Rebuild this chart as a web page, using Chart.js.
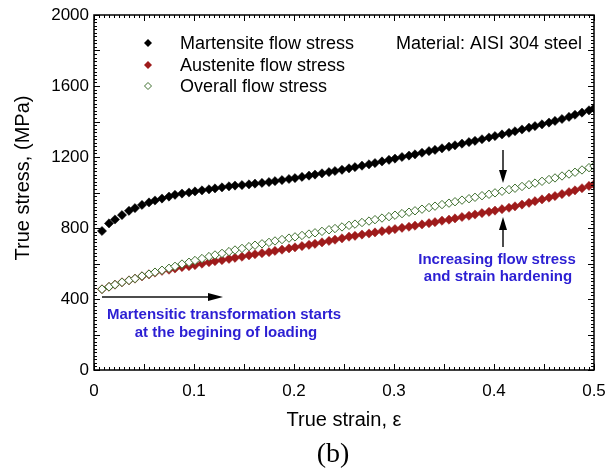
<!DOCTYPE html>
<html><head><meta charset="utf-8">
<script src="https://cdn.jsdelivr.net/npm/chart.js@4.4.0/dist/chart.umd.min.js"></script>
<style>html,body{margin:0;padding:0;background:#fff}#wrap{width:606px;height:475px}</style>
</head><body><div id="wrap"><canvas id="c" width="606" height="475"></canvas></div>
<script>
// ---- data ----
const strain = [0.008,0.015,0.021,0.028,0.035,0.041,0.048,0.055,0.061,0.068,0.075,0.081,0.088,0.095,0.101,0.108,0.115,0.121,0.128,0.135,0.141,0.148,0.155,0.161,0.168,0.175,0.181,0.188,0.195,0.201,0.208,0.215,0.221,0.228,0.235,0.241,0.248,0.255,0.261,0.268,0.275,0.281,0.288,0.295,0.301,0.308,0.315,0.321,0.328,0.335,0.341,0.348,0.355,0.361,0.368,0.375,0.381,0.388,0.395,0.401,0.408,0.415,0.421,0.428,0.435,0.441,0.448,0.455,0.461,0.468,0.475,0.481,0.488,0.495,0.5];
const martensite = [783,826,848,873,897,912,930,944,955,966,977,987,994,1000,1006,1012,1018,1023,1029,1035,1039,1042,1046,1050,1054,1059,1064,1070,1076,1081,1088,1095,1101,1108,1115,1121,1128,1136,1143,1151,1159,1166,1175,1184,1191,1200,1208,1215,1224,1233,1240,1249,1258,1266,1275,1284,1291,1300,1310,1318,1327,1336,1345,1355,1365,1374,1384,1394,1403,1414,1426,1438,1450,1463,1474];
const austenite = [455,469,481,494,505,515,528,539,549,559,565,572,580,585,591,599,607,613,619,626,632,638,646,652,658,664,671,678,685,691,698,705,711,719,727,734,742,751,756,763,769,775,782,788,794,801,807,813,820,827,833,841,847,854,862,869,876,884,891,898,906,914,922,932,942,951,961,971,980,991,1002,1012,1024,1037,1046];
const overall = [455,469,481,494,505,515,529,540,551,562,573,584,597,607,617,628,639,648,657,667,676,685,695,703,711,719,727,735,743,750,758,766,773,781,790,797,806,815,822,831,839,847,856,864,872,881,889,897,906,915,923,932,940,948,957,965,973,982,990,998,1007,1016,1024,1034,1044,1053,1063,1073,1082,1093,1104,1114,1127,1140,1149];
const xTickValues = [0,0.1,0.2,0.3,0.4,0.5];
const xTickLabels = ['0','0.1','0.2','0.3','0.4','0.5'];
const yTickValues = [0,400,800,1200,1600,2000];
const yTickLabels = ['0','400','800','1200','1600','2000'];
const seriesNames = ['Martensite flow stress','Austenite flow stress','Overall flow stress'];

const BLACK = '#000000', RED = '#9e1b1b', GREEN = '#3f6f2f', BLUE = '#2c1fd3';
const FONT = '"Liberation Sans", Arial, sans-serif';

function pts(ys){ return strain.map((x,i)=>({x:x,y:ys[i]})); }

function diamond(ctx,x,y,r,fill,stroke){
  ctx.beginPath();
  ctx.moveTo(x,y-r); ctx.lineTo(x+r,y); ctx.lineTo(x,y+r); ctx.lineTo(x-r,y); ctx.closePath();
  ctx.fillStyle = fill; ctx.fill();
  if (stroke){ ctx.lineWidth=1; ctx.strokeStyle=stroke; ctx.stroke(); }
}
function arrow(ctx,x1,y1,x2,y2,head,half){
  const a = Math.atan2(y2-y1,x2-x1);
  const bx = x2 - Math.cos(a)*head, by = y2 - Math.sin(a)*head;
  ctx.beginPath(); ctx.moveTo(x1,y1); ctx.lineTo(bx,by); ctx.stroke();
  ctx.beginPath();
  ctx.moveTo(x2,y2);
  ctx.lineTo(bx + Math.sin(a)*half, by - Math.cos(a)*half);
  ctx.lineTo(bx - Math.sin(a)*half, by + Math.cos(a)*half);
  ctx.closePath(); ctx.fill();
}

const decor = {
  id:'decor',
  afterDatasetsDraw(chart){
    const ctx = chart.ctx, a = chart.chartArea, xs = chart.scales.x, ys = chart.scales.y;
    ctx.save();
    // frame
    ctx.strokeStyle = '#000'; ctx.lineWidth = 1.5;
    ctx.strokeRect(a.left, a.top, a.right-a.left, a.bottom-a.top);
    // inward ticks on four sides
    ctx.lineWidth = 1;
    ctx.beginPath();
    for (let i=0;i<=100;i++){
      const v = i*0.005, px = Math.round(xs.getPixelForValue(v))+0.5;
      const L = (i%10===0)?6:3;
      ctx.moveTo(px,a.bottom); ctx.lineTo(px,a.bottom-L);
      ctx.moveTo(px,a.top); ctx.lineTo(px,a.top+L);
    }
    for (let i=0;i<=100;i++){
      const v = i*20, py = Math.round(ys.getPixelForValue(v))+0.5;
      const L = (i%10===0)?6:3;
      ctx.moveTo(a.left,py); ctx.lineTo(a.left+L,py);
      ctx.moveTo(a.right,py); ctx.lineTo(a.right-L,py);
    }
    ctx.stroke();

    // legend
    ctx.font = '18px '+FONT; ctx.textBaseline='middle'; ctx.textAlign='left'; ctx.fillStyle='#000';
    const lx = a.left+54, tx = a.left+86, rows=[a.top+28,a.top+50,a.top+71];
    diamond(ctx,lx,rows[0],4,BLACK);
    diamond(ctx,lx,rows[1],4,RED);
    diamond(ctx,lx,rows[2],3.5,'#fff',GREEN);
    ctx.fillStyle='#000';
    seriesNames.forEach((n,i)=>ctx.fillText(n,tx,rows[i]+1));
    ctx.textAlign='right';
    ctx.fillText('Material: AISI 304 steel', a.right-12, rows[0]+1);

    // annotations
    ctx.strokeStyle='#111'; ctx.fillStyle='#000'; ctx.lineWidth=1.5;
    arrow(ctx, xs.getPixelForValue(0.008), ys.getPixelForValue(411), xs.getPixelForValue(0.129), ys.getPixelForValue(411), 15, 4);
    const ax = xs.getPixelForValue(0.409);
    arrow(ctx, ax, ys.getPixelForValue(1239), ax, ys.getPixelForValue(1054), 13, 4);
    arrow(ctx, ax, ys.getPixelForValue(693), ax, ys.getPixelForValue(862), 13, 4);
    ctx.fillStyle = BLUE; ctx.font = 'bold 15px '+FONT; ctx.textAlign='center'; ctx.textBaseline='middle';
    const t1 = xs.getPixelForValue(0.130);
    ctx.fillText('Martensitic transformation starts', t1, ys.getPixelForValue(310));
    ctx.fillText('at the begining of loading', t1+2, ys.getPixelForValue(208));
    const t2 = xs.getPixelForValue(0.403);
    ctx.fillText('Increasing flow stress', t2, ys.getPixelForValue(620));
    ctx.fillText('and strain hardening', t2+1, ys.getPixelForValue(524));

    // axis titles
    ctx.fillStyle='#000'; ctx.font='20px '+FONT; ctx.textAlign='center'; ctx.textBaseline='alphabetic';
    ctx.fillText('True strain, \u03b5', (a.left+a.right)/2, 426);
    ctx.font='28px "Liberation Serif", "Times New Roman", serif';
    ctx.fillText('(b)', 333, 462);
    ctx.save();
    ctx.translate(23,178); ctx.rotate(-Math.PI/2);
    ctx.font='20px '+FONT; ctx.textBaseline='middle';
    ctx.fillText('True stress, (MPa)',0,0);
    ctx.restore();
    ctx.restore();
  }
};

new Chart(document.getElementById('c'), {
  type:'scatter',
  data:{ datasets:[
    {label:seriesNames[0], data:pts(martensite), order:2, pointStyle:'rectRot', pointRadius:4.6, pointBackgroundColor:BLACK, pointBorderColor:BLACK, pointBorderWidth:0.5, showLine:false},
    {label:seriesNames[1], data:pts(austenite), order:1, pointStyle:'rectRot', pointRadius:4.6, pointBackgroundColor:RED, pointBorderColor:RED, pointBorderWidth:0.5, showLine:false},
    {label:seriesNames[2], data:pts(overall), order:0, pointStyle:'rectRot', pointRadius:4.2, pointBackgroundColor:'#ffffff', pointBorderColor:GREEN, pointBorderWidth:1, showLine:false}
  ]},
  options:{
    responsive:false, animation:false, devicePixelRatio:1,
    layout:{padding:{left:0,right:12,top:15,bottom:0}},
    plugins:{legend:{display:false}, tooltip:{enabled:false}},
    scales:{
      x:{type:'linear', min:0, max:0.5,
         afterBuildTicks:s=>{ s.ticks = xTickValues.map(v=>({value:v})); },
         afterFit:s=>{ s.height = 105; s.paddingLeft = 0; s.paddingRight = 0; },
         grid:{display:false, drawTicks:false}, border:{display:false},
         ticks:{padding:11, color:'#000', font:{family:'"Liberation Sans", Arial, sans-serif', size:17}, maxRotation:0, autoSkip:false,
           callback:(v,i)=>xTickLabels[i]}},
      y:{type:'linear', min:0, max:2000,
         afterBuildTicks:s=>{ s.ticks = yTickValues.map(v=>({value:v})); },
         afterFit:s=>{ s.width = 94; s.paddingTop = 0; s.paddingBottom = 0; },
         grid:{display:false, drawTicks:false}, border:{display:false},
         ticks:{padding:5, color:'#000', font:{family:'"Liberation Sans", Arial, sans-serif', size:17}, autoSkip:false,
           callback:(v,i)=>yTickLabels[i]}}
    }
  },
  plugins:[decor]
});
</script></body></html>
